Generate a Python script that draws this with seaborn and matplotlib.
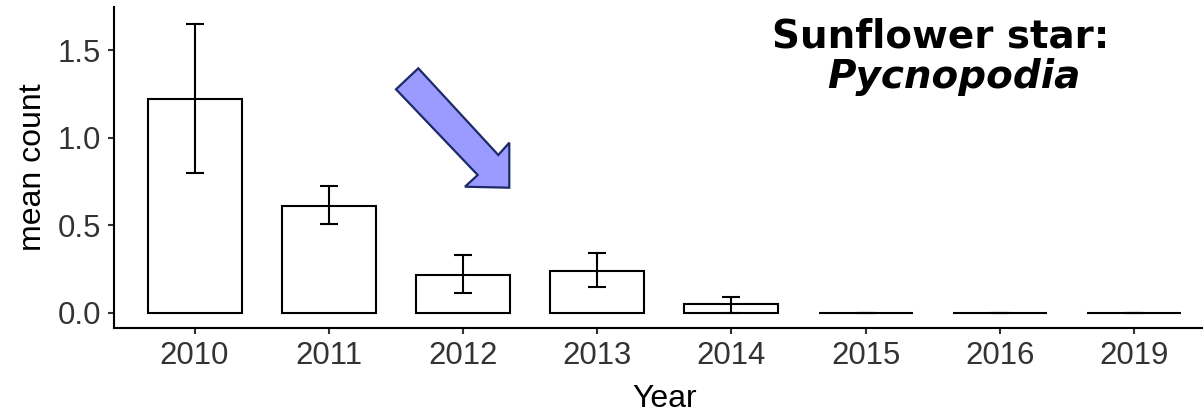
import matplotlib
matplotlib.use("Agg")
import matplotlib.pyplot as plt
import seaborn as sns
import numpy as np
from matplotlib.patches import Polygon

# Mean counts of sunflower stars per survey year, with error-bar bounds
years = ["2010", "2011", "2012", "2013", "2014", "2015", "2016", "2019"]
mean_count = [1.223, 0.607, 0.216, 0.240, 0.050, 0.0, 0.0, 0.0]
lower = [0.800, 0.504, 0.113, 0.149, 0.000, 0.0, 0.0, 0.0]
upper = [1.650, 0.723, 0.332, 0.343, 0.092, 0.0, 0.0, 0.0]
y_ticks = [0.0, 0.5, 1.0, 1.5]

sns.set_style("ticks")
plt.rcParams["font.family"] = ["Liberation Sans", "DejaVu Sans"]

W, H, DPI = 1203, 417, 100
fig = plt.figure(figsize=(W / DPI, H / DPI), dpi=DPI)
ax = fig.add_axes([114 / W, 89 / H, 1100.7 / W, 321 / H])

sns.barplot(x=years, y=mean_count, color="white", edgecolor="black",
            linewidth=1.5, width=0.7, saturation=1, errorbar=None, ax=ax)

pos = np.arange(len(years))
mc = np.array(mean_count)
yerr = [mc - np.array(lower), np.array(upper) - mc]
ax.errorbar(pos, mc, yerr=yerr, fmt="none", ecolor="black",
            elinewidth=1.5, capsize=6.5, capthick=1.5, zorder=3)

ax.set_xlim(-0.6, 7.6)
ax.set_ylim(-0.088, 1.748)
ax.set_yticks(y_ticks)
ax.set_yticklabels([f"{v:.1f}" for v in y_ticks])

for side in ("top", "right"):
    ax.spines[side].set_visible(False)
for side in ("left", "bottom"):
    ax.spines[side].set_linewidth(1.5)
    ax.spines[side].set_color("black")

ax.tick_params(axis="both", length=4.5, width=1.5, color="#333333",
               labelsize=22.4, labelcolor="#333333", pad=5)
ax.set_xlabel("Year", fontsize=23, color="black", labelpad=9)
ax.set_ylabel("mean count", fontsize=23, color="black", labelpad=7)

# Species title in the upper right
fig.text(941 / W, 1 - 47.5 / H, "Sunflower star:", ha="center", va="baseline",
         fontsize=28, fontweight="bold", family="DejaVu Sans", color="black")
fig.text(954 / W, 1 - 87.5 / H, "Pycnopodia", ha="center", va="baseline",
         fontsize=28, fontweight="bold", style="italic",
         family="DejaVu Sans", color="black")

# Highlight arrow pointing at the decline
arrow_px = [(396, 89.3), (418.3, 68.3), (498.3, 155), (509.3, 142.7),
            (509.3, 187.7), (465, 186.7), (477.7, 175)]
arrow_xy = [(x / W, 1 - y / H) for x, y in arrow_px]
fig.patches.append(Polygon(arrow_xy, closed=True, transform=fig.transFigure,
                           facecolor="#9b9bff", edgecolor="#1c2a66",
                           linewidth=1.6, joinstyle="miter"))

fig.savefig("out.png", dpi=DPI)
